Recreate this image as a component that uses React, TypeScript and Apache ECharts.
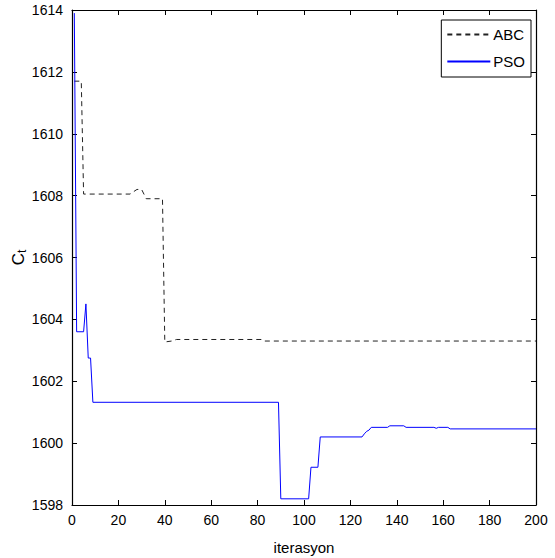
import React, { useEffect, useRef } from "react";
import * as echarts from "echarts";

const abcIter = [1, 4, 5, 25, 28, 30, 32, 39, 40, 43, 45, 82, 83, 200];
const abcCost = [1611.7, 1611.7, 1608.05, 1608.05, 1608.2, 1608.2, 1607.9, 1607.9, 1603.27, 1603.3, 1603.35, 1603.35, 1603.3, 1603.3];

const psoIter = [1, 2, 5, 6, 7, 8, 9, 89, 90, 102, 103, 106, 107, 125, 126, 127, 128, 129, 136, 137, 143, 144, 156, 157, 158, 162, 163, 200];
const psoCost = [1613.9, 1603.6, 1603.6, 1604.5, 1602.75, 1602.75, 1601.32, 1601.32, 1598.2, 1598.2, 1599.22, 1599.22, 1600.2, 1600.2, 1600.3, 1600.38, 1600.42, 1600.51, 1600.51, 1600.56, 1600.56, 1600.51, 1600.51, 1600.48, 1600.51, 1600.51, 1600.46, 1600.46];

const xTicks = { min: 0, max: 200, interval: 20 };
const yTicks = { min: 1598, max: 1614, interval: 2 };

const FONT = "'Liberation Sans Narrow', 'Liberation Sans', Arial, sans-serif";

export default function App() {
  const ref = useRef<HTMLDivElement>(null);
  useEffect(() => {
    if (!ref.current) return;
    const chart = echarts.init(ref.current, undefined, { renderer: "svg" });
    const zip = (xs: number[], ys: number[]) => xs.map((x, i) => [x, ys[i]]);
    const tickStyle = { show: true, inside: true, length: 5, lineStyle: { color: "#000", width: 1 } };
    const lineStyleAxis = { show: true, onZero: false, lineStyle: { color: "#000", width: 1.2 } };
    const fmt = (v: number) => String(v);
    chart.setOption({
      animation: false,
      backgroundColor: "#fff",
      grid: { left: 72, right: 19, top: 10, bottom: 53, containLabel: false, outerBoundsMode: "none" },
      legend: {
        orient: "vertical",
        right: 24,
        top: 20,
        backgroundColor: "#fff",
        borderColor: "#000",
        borderWidth: 1,
        borderRadius: 0,
        padding: [7, 6, 8, 5],
        itemGap: 12,
        itemWidth: 43,
        itemHeight: 14,
        itemStyle: { color: "transparent", borderWidth: 0, opacity: 0 },
        textStyle: { color: "#000", fontSize: 15, fontFamily: FONT, padding: [0, 0, 0, -2] },
        data: [{ name: "ABC" }, { name: "PSO" }],
      },
      xAxis: [
        {
          type: "value",
          ...xTicks,
          position: "bottom",
          name: "iterasyon",
          nameLocation: "middle",
          nameGap: 35,
          nameMoveOverlap: false,
          nameTextStyle: { color: "#000", fontSize: 15, fontFamily: FONT },
          axisLine: lineStyleAxis,
          axisTick: tickStyle,
          axisLabel: { color: "#000", fontSize: 14, fontFamily: FONT, margin: 8, formatter: fmt },
          splitLine: { show: false },
        },
        {
          type: "value",
          ...xTicks,
          position: "top",
          axisLine: lineStyleAxis,
          axisTick: tickStyle,
          axisLabel: { show: false },
          splitLine: { show: false },
        },
      ],
      yAxis: [
        {
          type: "value",
          ...yTicks,
          position: "left",
          name: "{c|C}{t|t}",
          nameLocation: "middle",
          nameGap: 44,
          nameMoveOverlap: false,
          nameTextStyle: {
            color: "#000",
            fontFamily: FONT,
            rich: {
              c: { fontSize: 17, fontFamily: FONT, color: "#000" },
              t: { fontSize: 12, fontFamily: FONT, color: "#000", padding: [8, 0, 0, 0] },
            },
          },
          axisLine: lineStyleAxis,
          axisTick: tickStyle,
          axisLabel: { color: "#000", fontSize: 14, fontFamily: FONT, margin: 9, formatter: fmt },
          splitLine: { show: false },
        },
        {
          type: "value",
          ...yTicks,
          position: "right",
          axisLine: lineStyleAxis,
          axisTick: tickStyle,
          axisLabel: { show: false },
          splitLine: { show: false },
        },
      ],
      series: [
        {
          name: "ABC",
          type: "line",
          data: zip(abcIter, abcCost),
          showSymbol: false,
          symbol: "none",
          lineStyle: { color: "#222", width: 1, type: [5, 4] },
          itemStyle: { color: "#222" },
        },
        {
          name: "PSO",
          type: "line",
          data: zip(psoIter, psoCost),
          showSymbol: false,
          symbol: "none",
          lineStyle: { color: "#0000ff", width: 1 },
          itemStyle: { color: "#0000ff" },
        },
      ],
    });
    return () => chart.dispose();
  }, []);
  return <div ref={ref} style={{ position: "fixed", left: 0, top: 0, width: 555, height: 558 }} />;
}
